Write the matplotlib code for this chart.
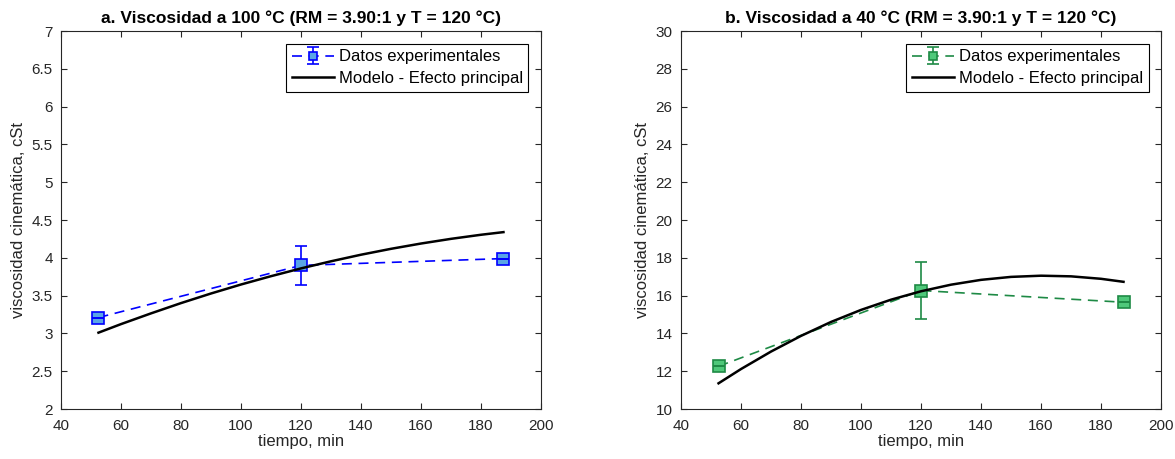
import numpy as np
import matplotlib
matplotlib.use("Agg")
import matplotlib.pyplot as plt

plt.rcParams['font.family'] = ['Liberation Sans', 'DejaVu Sans']

# experimental data (tiempo, min)
t_exp = [52.5, 120, 187.5]
v100_exp = [3.21, 3.90, 3.99]
v100_err = [0.0, 0.26, 0.0]
v40_exp = [12.26, 16.27, 15.65]
v40_err = [0.0, 1.53, 0.0]

# model curves
t_mod = [52.5, 60, 70, 80, 90, 100, 110, 120, 130, 140, 150, 160, 170, 180, 187.5]
v100_mod = [3.01, 3.123, 3.265, 3.401, 3.528, 3.647, 3.757, 3.86, 3.954, 4.041,
            4.119, 4.189, 4.251, 4.305, 4.34]
v40_mod = [11.36, 12.116, 13.04, 13.87, 14.607, 15.244, 15.785, 16.23, 16.579,
           16.834, 16.991, 17.054, 17.02, 16.89, 16.73]

titles = ['a. Viscosidad a 100 °C (RM = 3.90:1 y T = 120 °C)',
          'b. Viscosidad a 40 °C (RM = 3.90:1 y T = 120 °C)']

fig = plt.figure(figsize=(11.75, 4.59), dpi=100)
ax1 = fig.add_axes([0.0519, 0.1089, 0.4085, 0.8235])
ax2 = fig.add_axes([0.5796, 0.1089, 0.4085, 0.8235])

def draw(ax, y, err, ymod, line_c, face_c, ylim, yticks, ytl, title):
    eb = ax.errorbar(t_exp, y, yerr=err, fmt='--s', color=line_c, mfc=face_c,
                     mec=line_c, ms=9, mew=1.2, lw=1.2, capsize=4, elinewidth=1.2,
                     dashes=(6, 4), zorder=3)
    for c in eb[1]:
        c.set_zorder(5)
    ln, = ax.plot(t_mod, ymod, color='black', lw=1.8, zorder=4)
    ax.set_xlim(40, 200)
    ax.set_ylim(*ylim)
    ax.set_xticks(range(40, 201, 20))
    ax.set_yticks(yticks)
    ax.set_yticklabels(ytl)
    ax.tick_params(direction='in', top=True, right=True, length=4,
                   labelsize=11, colors='#262626', width=0.8)
    ax.tick_params(axis='x', pad=7)
    ax.tick_params(axis='y', pad=6)
    for s in ax.spines.values():
        s.set_color('#262626')
        s.set_linewidth(0.8)
    ax.set_xlabel('tiempo, min', fontsize=12, color='#262626', labelpad=1)
    ax.set_ylabel('viscosidad cinemática, cSt', fontsize=12, color='#262626')
    ax.set_title(title, fontsize=12.5, fontweight='bold', pad=6)
    leg = ax.legend([eb, ln], ['Datos experimentales', 'Modelo - Efecto principal'],
                    loc='upper right', fontsize=12, fancybox=False,
                    edgecolor='black', framealpha=1, borderpad=0.35,
                    handlelength=2.5, handletextpad=0.3, borderaxespad=0.75,
                    labelspacing=0.4, markerscale=0.6)
    leg.get_frame().set_linewidth(0.8)

yt1 = np.arange(2, 7.01, 0.5)
draw(ax1, v100_exp, v100_err, v100_mod, '#0000FF', '#5AA5E6', (2, 7), yt1,
     ['%g' % v for v in yt1], titles[0])
yt2 = np.arange(10, 30.01, 2)
draw(ax2, v40_exp, v40_err, v40_mod, '#1E8A45', '#4FC87A', (10, 30), yt2,
     ['%g' % v for v in yt2], titles[1])

fig.savefig('out.png', dpi=100)
